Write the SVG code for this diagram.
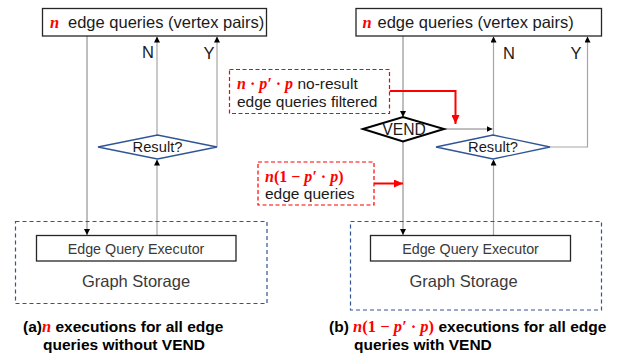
<svg xmlns="http://www.w3.org/2000/svg" width="622" height="356" viewBox="0 0 622 356">
<style>
.box{fill:#fff;stroke:#262626;stroke-width:1.3}
.txt{font-family:"Liberation Sans",Arial,sans-serif;fill:#1a1a1a}
.lt{font-family:"Liberation Sans",Arial,sans-serif;fill:#3a3a3a}
.math{font-family:"Liberation Serif","Times New Roman",serif;font-weight:bold;font-style:italic;fill:#ff0000}
.mathr{font-family:"Liberation Serif","Times New Roman",serif;font-weight:bold;fill:#ff0000}
.cap{font-family:"Liberation Sans",Arial,sans-serif;font-weight:bold;fill:#000;font-size:15.5px}
.gs{fill:none;stroke:#2f5597;stroke-width:1.2;stroke-dasharray:4 3}
.note{fill:#fff;stroke:#ff0000;stroke-width:1.2;stroke-dasharray:4 2.5}
.res{fill:#fff;stroke:#2f5597;stroke-width:1.3}
.vend{fill:#fff;stroke:#000;stroke-width:2}
.ln{fill:none;stroke:#7f7f7f;stroke-width:1}
.lu{fill:none;stroke:#a6a6a6;stroke-width:1.2}
.red{fill:none;stroke:#ff0000;stroke-width:2}
</style>
<defs>
<marker id="ah" markerWidth="6" markerHeight="6" refX="6" refY="3" orient="auto" markerUnits="userSpaceOnUse">
<path d="M0,0 L6,3 L0,6 z" fill="#000"/>
</marker>
<marker id="rh" markerWidth="9" markerHeight="8" refX="9" refY="4" orient="auto" markerUnits="userSpaceOnUse">
<path d="M0,0 L9,4 L0,8 z" fill="#ff0000"/>
</marker>
</defs>

<g id="connectors">
<!-- left panel -->
<path class="ln" d="M87,36 V235" marker-end="url(#ah)"/>
<path class="lu" d="M157,235.5 V159.5" marker-end="url(#ah)"/>
<path class="lu" d="M157,135 V36.5" marker-end="url(#ah)"/>
<path class="lu" d="M217,147 V36.5" marker-end="url(#ah)"/>
<!-- right panel -->
<path class="ln" d="M403,36 V117" marker-end="url(#ah)"/>
<path class="ln" d="M403,141.5 V235" marker-end="url(#ah)"/>
<path class="ln" d="M444,129 H492.5" marker-end="url(#ah)"/>
<path class="lu" d="M493.5,235.5 V159.5" marker-end="url(#ah)"/>
<path class="lu" d="M493.5,135 V36.5" marker-end="url(#ah)"/>
<path class="lu" d="M550,147 H587.5 V36.5" marker-end="url(#ah)"/>
<path class="red" d="M389.5,91 H455.5 V124" marker-end="url(#rh)"/>
<path class="red" d="M374,183.5 H403" marker-end="url(#rh)"/>
</g>

<g id="labels-ny">
<text class="txt" x="148" y="58" font-size="16.5" text-anchor="middle">N</text>
<text class="txt" x="209" y="59" font-size="16.5" text-anchor="middle">Y</text>
<text class="txt" x="509" y="59" font-size="16.5" text-anchor="middle">N</text>
<text class="txt" x="576" y="59" font-size="16.5" text-anchor="middle">Y</text>
</g>

<g id="queries-a">
<rect class="box" x="42.5" y="8.5" width="224" height="27.5"/>
<text x="50" y="28" font-size="16.5"><tspan class="math">n</tspan><tspan class="txt" x="68">edge queries (vertex pairs)</tspan></text>
</g>

<g id="result-a">
<polygon class="res" points="98,147 157.5,135 217,147 157.5,159"/>
<text class="txt" x="157.5" y="152" font-size="14.7" text-anchor="middle">Result?</text>
</g>

<g id="storage-a">
<rect class="gs" x="15.5" y="221.5" width="251.5" height="82"/>
<text class="lt" x="136" y="286.5" font-size="16.5" text-anchor="middle">Graph Storage</text>
</g>

<g id="executor-a">
<rect class="box" x="36.5" y="235.5" width="199.5" height="25.5"/>
<text class="lt" x="136" y="253.5" font-size="14.3" text-anchor="middle">Edge Query Executor</text>
</g>

<g id="caption-a">
<text class="cap" x="23" y="332">(a)<tspan class="math" font-size="16.5">n</tspan> executions for all edge</text>
<text class="cap" x="43" y="350">queries without VEND</text>
</g>

<g id="queries-b">
<rect class="box" x="356" y="8.5" width="245.5" height="27.5"/>
<text x="362.5" y="28" font-size="16.5"><tspan class="math">n</tspan><tspan class="txt" x="377.5">edge queries (vertex pairs)</tspan></text>
</g>

<g id="vend">
<polygon class="vend" points="363,129 403,117 444,129 403,141.5"/>
<text class="txt" x="404" y="135" font-size="15.7" text-anchor="middle">VEND</text>
</g>

<g id="result-b">
<polygon class="res" points="436,147 493,135 550,147 493,159"/>
<text class="txt" x="493" y="152" font-size="14.7" text-anchor="middle">Result?</text>
</g>

<g id="note-filtered">
<rect class="note" x="229.5" y="69.5" width="160" height="44"/>
<text x="237" y="88.5" font-size="15.5"><tspan class="math" font-size="16">n</tspan><tspan class="mathr" font-size="16"> · </tspan><tspan class="math" font-size="16">p′</tspan><tspan class="mathr" font-size="16"> · </tspan><tspan class="math" font-size="16">p</tspan><tspan class="txt"> no-result</tspan></text>
<text class="txt" x="237" y="107" font-size="15.5">edge queries filtered</text>
</g>

<g id="note-remaining">
<rect class="note" x="258" y="162" width="116" height="43"/>
<text x="265" y="182" font-size="16"><tspan class="math">n</tspan><tspan class="mathr">(1 − </tspan><tspan class="math">p′</tspan><tspan class="mathr"> · </tspan><tspan class="math">p</tspan><tspan class="mathr">)</tspan></text>
<text class="txt" x="265" y="199" font-size="15.5">edge queries</text>
</g>

<g id="storage-b">
<rect class="gs" x="350.5" y="221.5" width="251" height="88.5"/>
<text class="lt" x="463.5" y="286.5" font-size="16.5" text-anchor="middle">Graph Storage</text>
</g>

<g id="executor-b">
<rect class="box" x="370.5" y="235.5" width="200" height="25.5"/>
<text class="lt" x="470.5" y="253.5" font-size="14.3" text-anchor="middle">Edge Query Executor</text>
</g>

<g id="caption-b">
<text class="cap" x="329" y="332">(b) <tspan class="math" font-size="16.5">n</tspan><tspan class="mathr" font-size="16.5">(1 − </tspan><tspan class="math" font-size="16.5">p′</tspan><tspan class="mathr" font-size="16.5">  · </tspan><tspan class="math" font-size="16.5">p</tspan><tspan class="mathr" font-size="16.5">)</tspan> executions for all edge</text>
<text class="cap" x="354" y="350">queries with VEND</text>
</g>
</svg>
